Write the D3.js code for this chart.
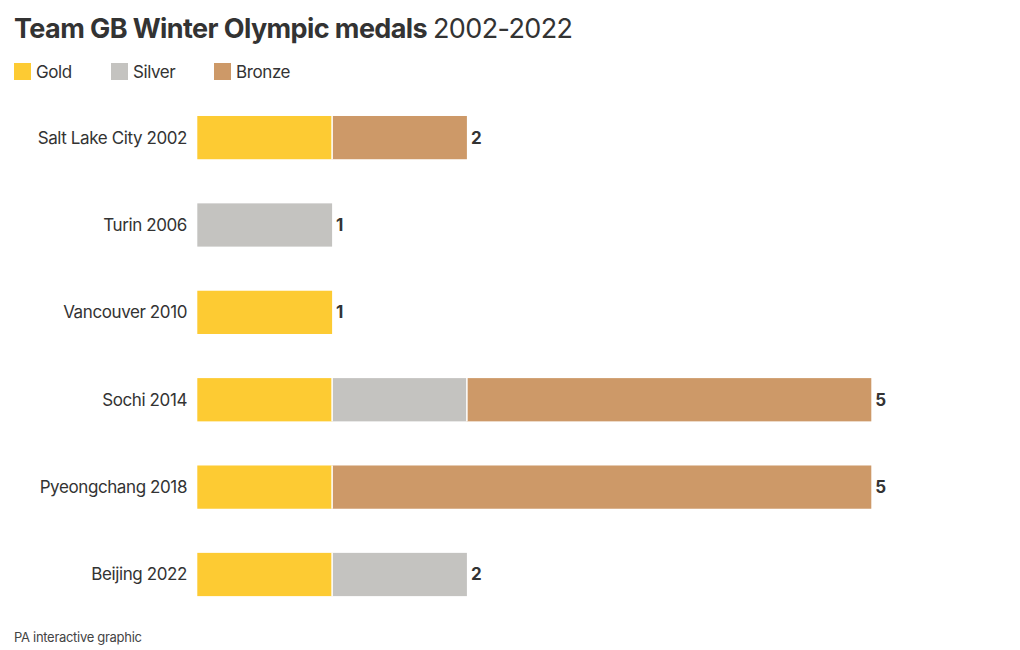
<!DOCTYPE html>
<html>
  <head>
    <meta charset='utf-8' />
    <title>Team GB Winter Olympic medals</title>
    <script src="https://d3js.org/d3.v7.min.js"></script>
    <style>
body {
  margin: 0;
  font-family: "Inter", "Roboto", sans-serif;
  background: #fff;
}
.cat {
  font-size: 17px;
  fill: #333;
  letter-spacing: -0.4px;
}
.total {
  font-size: 17px;
  font-weight: 700;
  fill: #333;
}
.legend text {
  font-size: 17px;
  fill: #333;
  letter-spacing: -0.4px;
}
    </style>
  </head>
  <body>
    <div id="graphic"></div>
    <script>
      // data
      const games = ["Salt Lake City 2002", "Turin 2006", "Vancouver 2010", "Sochi 2014", "Pyeongchang 2018", "Beijing 2022"];
      const gold = [1, 0, 1, 1, 1, 1];
      const silver = [0, 1, 0, 1, 0, 1];
      const bronze = [1, 0, 0, 3, 4, 0];
      const medalTypes = ["Gold", "Silver", "Bronze"];
      const colors = ["#fdcb33", "#c4c3c0", "#cd9968"];

      const width = 1020;
      const height = 650;

      const svg = d3.select("#graphic").append("svg")
        .attr("width", width)
        .attr("height", height);

      // title
      const title = svg.append("text")
        .attr("x", 14)
        .attr("y", 38)
        .style("font-size", "27px")
        .style("fill", "#333")
        .style("letter-spacing", "-0.6px");
      title.append("tspan").style("font-weight", 700).text("Team GB Winter Olympic medals ");
      title.append("tspan").style("font-weight", 400).text("2002-2022");

      // legend
      const legendX = [14, 111, 214];
      const legend = svg.append("g").attr("class", "legend");
      medalTypes.forEach((m, i) => {
        legend.append("rect")
          .attr("x", legendX[i])
          .attr("y", 63)
          .attr("width", 17)
          .attr("height", 17)
          .attr("fill", colors[i]);
        legend.append("text")
          .attr("x", legendX[i] + 22)
          .attr("y", 78)
          .text(m);
      });

      const rows = games.map((g, i) => ({ game: g, values: [gold[i], silver[i], bronze[i]] }));

      const x = d3.scaleLinear()
        .domain([0, 5])
        .range([197.3, 871.3]);

      const y = d3.scaleBand()
        .domain(games)
        .range([72.3, 639.8])
        .paddingInner(0.505)
        .paddingOuter(0.5);

      const series = d3.stack()
        .keys([0, 1, 2])
        .value((d, k) => d.values[k])(rows);

      const chartBody = svg.append("g");

      const segs = chartBody.selectAll("g.series")
        .data(series)
        .enter()
        .append("g")
        .attr("class", "series")
        .attr("fill", (d, i) => colors[i])
        .selectAll("g")
        .data(d => d.filter(s => s[1] > s[0]))
        .enter()
        .append("g");

      segs.append("rect")
        .attr("x", d => x(d[0]))
        .attr("width", d => x(d[1]) - x(d[0]))
        .attr("y", d => y(d.data.game))
        .attr("height", y.bandwidth());

      // white separators between segments
      segs.filter(d => d[0] > 0)
        .append("line")
        .attr("x1", d => x(d[0]))
        .attr("x2", d => x(d[0]))
        .attr("y1", d => y(d.data.game))
        .attr("y2", d => y(d.data.game) + y.bandwidth())
        .attr("stroke", "#fff")
        .attr("stroke-width", 1.5);

      // category labels
      svg.append("g")
        .selectAll("text")
        .data(games)
        .enter()
        .append("text")
        .attr("class", "cat")
        .attr("x", 187)
        .attr("y", d => y(d) + y.bandwidth() / 2)
        .attr("dy", "0.35em")
        .attr("text-anchor", "end")
        .text(d => d);

      // totals
      svg.append("g")
        .selectAll("text")
        .data(rows)
        .enter()
        .append("text")
        .attr("class", "total")
        .attr("x", d => x(d3.sum(d.values)) + 4)
        .attr("y", d => y(d.game) + y.bandwidth() / 2)
        .attr("dy", "0.35em")
        .text(d => d3.sum(d.values));

      // footer
      svg.append("text")
        .attr("x", 14)
        .attr("y", 642)
        .style("font-size", "13px")
        .style("fill", "#444")
        .style("letter-spacing", "-0.3px")
        .text("PA interactive graphic");
    </script>
  </body>
</html>
